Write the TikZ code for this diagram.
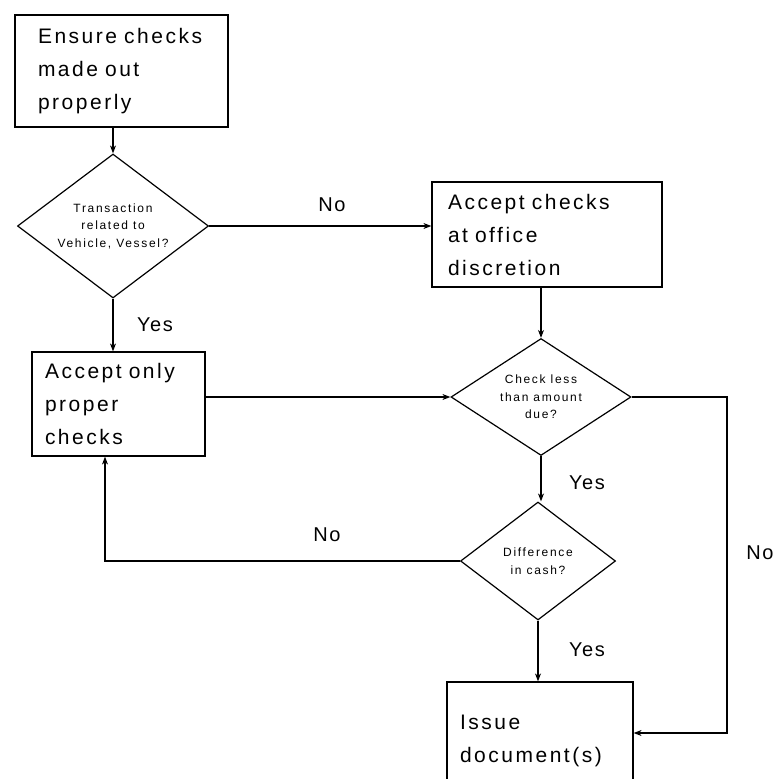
\documentclass[tikz,border=0pt]{standalone}
\usepackage{fontspec}
\setmainfont{Liberation Sans}
\newfontfamily\boxfont[LetterSpace=12]{Liberation Sans}
\newfontfamily\diafont[LetterSpace=14]{Liberation Sans}
\newfontfamily\lblfont[LetterSpace=8]{Liberation Sans}
\usetikzlibrary{shapes.geometric,arrows.meta}
\begin{document}
\begin{tikzpicture}[x=1pt,y=-1pt,
  line width=1.2pt,
  flow/.style={-{Stealth[length=8pt,width=6pt]}},
  procbox/.style={draw, rectangle, align=left, inner xsep=0pt, inner ysep=0pt,
    font=\boxfont\fontsize{21}{33}\selectfont},
  decision/.style={draw, diamond, inner sep=0pt, align=center, aspect=1.4,
    font=\diafont\fontsize{12}{17.5}\selectfont},
  lbl/.style={font=\lblfont\fontsize{20}{22}\selectfont, inner sep=0pt}]
\useasboundingbox (0,0) rectangle (774,779);
\clip (0,0) rectangle (774,779);
% boxes
\node[procbox, minimum width=213pt, minimum height=112pt, text width=167pt] (b1) at (121.5,71) {Ensure checks\\made out\\properly};
\node[procbox, minimum width=230pt, minimum height=105pt, text width=198pt] (b2) at (547,234.5) {Accept checks\\at office\\discretion};
\node[procbox, minimum width=173pt, minimum height=104pt, text width=147pt] (b3) at (118.5,404) {Accept only\\proper\\checks};
\node[procbox, minimum width=186pt, minimum height=118pt, text width=160pt] (b4) at (540,741) {Issue\\document(s)};
% decisions
\node[decision, minimum width=191pt, minimum height=144pt] (d1) at (113,226) {Transaction\\related to\\Vehicle, Vessel?};
\node[decision, minimum width=180pt, minimum height=117pt] (d2) at (541,397) {Check less\\than amount\\due?};
\node[decision, minimum width=155pt, minimum height=118pt] (d3) at (538,561) {Difference\\in cash?};
\coordinate (c1) at (727,733);
% connectors
\draw[flow] (d1.north |- b1.south) -- (d1.north);
\draw[flow] (d1.east) -- (d1.east -| b2.west);
\draw[flow] (d1.south) -- (d1.south |- b3.north);
\draw[flow] (d2.north |- b2.south) -- (d2.north);
\draw[flow] (b3.east |- d2.west) -- (d2.west);
\draw[flow] (d2.south) -- (d2.south |- d3.north);
\draw[flow] (d3.west) -| ([xshift=-13.5pt]b3.south);
\draw[flow] (d3.south) -- (d3.south |- b4.north);
\draw[flow] (d2.east) -| (c1) -- (c1 -| b4.east);
% labels
\node[lbl] (n1) at (332,205) {No};
\node[lbl] (y1) at (155,325) {Yes};
\node[lbl] (y2) at (587,483) {Yes};
\node[lbl] (n2) at (327,535) {No};
\node[lbl] (y3) at (587,650) {Yes};
\node[lbl] (n3) at (760,553) {No};
\end{tikzpicture}
\end{document}
